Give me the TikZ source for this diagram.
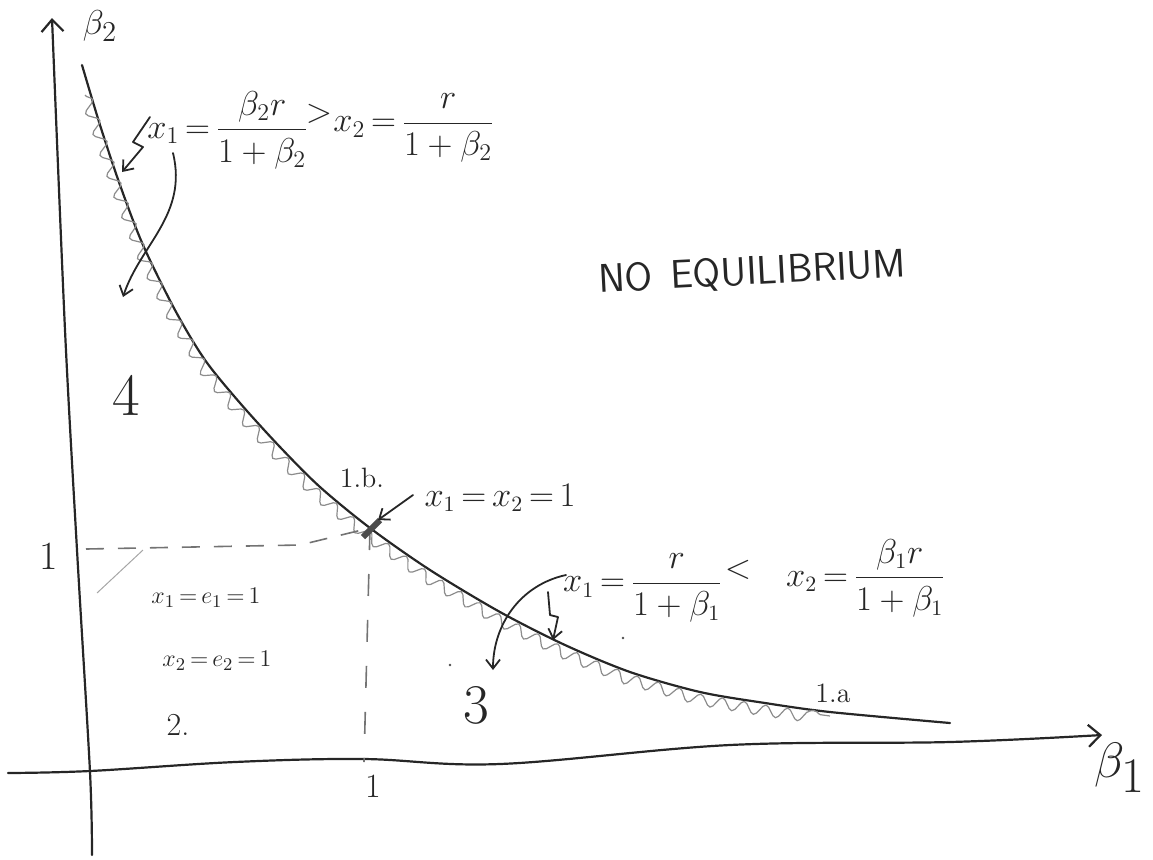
\documentclass[tikz,border=0pt]{standalone}
\usetikzlibrary{arrows.meta,decorations.pathmorphing}
\begin{document}
\begin{tikzpicture}[x=0.5pt,y=-0.5pt,
  ink/.style={line width=1.1pt, black!85, line cap=round, line join=round},
  axisarrow/.style={ink, -{Straight Barb[length=6pt,width=11pt]}},
  pen/.style={line width=0.9pt, black!85, line cap=round, line join=round, -{Straight Barb[length=4.5pt,width=7pt]}},
  guide/.style={line width=0.8pt, black!55, dash pattern=on 9pt off 7pt},
  wiggle/.style={line width=0.6pt, black!45, decorate, decoration={snake, segment length=11pt, amplitude=2.8pt}},
  lab/.style={inner sep=0pt, text=black!85},
]
\useasboundingbox (0,0) rectangle (1153,859);

% axes
\draw[axisarrow] plot[smooth] coordinates {(92,855) (90,772) (77,550) (65,330) (52,18)};
\draw[axisarrow] plot[smooth, tension=0.6] coordinates {(8,773) (90,771) (235,762) (363,759) (500,764) (730,745) (950,742) (1102,735)};

% key point on the curve
\coordinate (P) at (370,528);

% hyperbola-like boundary
\draw[ink] plot[smooth] coordinates {(82,65) (100,125) (120,185) (143,245) (175,310) (205,360) (240,403) (280,447) (320,487) (370,528) (430,570) (500,612) (565,645) (630,672) (700,692) (765,703) (830,712) (950,723)};
\draw[wiggle] (85,95) -- (97,129) -- (117,189) -- (140,249) -- (172,314) -- (202,364) -- (237,407) -- (277,451) -- (317,491) -- (367,532) -- (427,574) -- (498,616) -- (563,649) -- (629,676) -- (699,696) -- (765,707) -- (830,716);

% dashed guides
\coordinate (H) at (86,549);
\coordinate (V) at (364,762);
\draw[guide] (H) -- (300,545) -- (P);
\draw[guide, dash pattern=on 11pt off 12pt] (P) -- (V);
\draw[black!35, line width=0.5pt] (97,593) -- (143,550);

% thick mark
\draw[line width=3pt, black!70] (363,537) -- (380,520);

% axis labels
\node[lab, font=\fontsize{19}{21}\selectfont] (b2) at (100,26) {$\beta_2$};
\node[lab, font=\fontsize{40}{44}\selectfont] (b1) at (1120,768) {$\beta_1$};
\node[lab, font=\fontsize{20}{22}\selectfont] (one) at (49,556) {1};
\node[lab, font=\fontsize{17}{20}\selectfont] (oneb) at (373,786) {1};

% top formula
\node[lab, font=\fontsize{17}{20}\selectfont] (f1) at (228,130) {$x_1\,{=}\,\displaystyle\frac{\beta_2 r}{1+\beta_2}$};
\node[lab, font=\fontsize{17}{20}\selectfont] (gt) at (319,114) {$>$};
\node[lab, font=\fontsize{17}{20}\selectfont] (f2) at (414,128) {$x_2\,{=}\,\displaystyle\frac{r}{1+\beta_2}$};

% region labels
\node[lab, font=\sffamily\fontsize{20}{24}\selectfont, rotate=3] (nq) at (752,273) {NO\hspace{0.45em}EQUILIBRIUM};
\node[lab, font=\fontsize{30}{34}\selectfont] (r4) at (126,395) {4};
\node[lab, font=\fontsize{28}{32}\selectfont] (r3) at (476,705) {3};
\node[lab, font=\fontsize{16}{19}\selectfont] (r2) at (178,725) {2.};
\node[lab, font=\fontsize{13}{16}\selectfont] (e1) at (206,598) {$x_1\,{=}\,e_1\,{=}\,1$};
\node[lab, font=\fontsize{13}{16}\selectfont] (e2) at (217,661) {$x_2\,{=}\,e_2\,{=}\,1$};
\node[lab, font=\fontsize{14}{17}\selectfont] (lb) at (362,478) {1.b.};
\node[lab, font=\fontsize{14}{17}\selectfont] (la) at (833,693) {1.a};
\node[lab, font=\fontsize{16}{19}\selectfont] (eq) at (500,498) {$x_1\,{=}\,x_2\,{=}\,1$};

% bottom formula
\node[lab, font=\fontsize{16}{19}\selectfont] (f3) at (643,588) {$x_1\,{=}\,\displaystyle\frac{r}{1+\beta_1}$};
\node[lab, font=\fontsize{16}{19}\selectfont] (lt) at (738,570) {$<$};
\node[lab, font=\fontsize{16}{19}\selectfont] (f4) at (866,578) {$x_2\,{=}\,\displaystyle\frac{\beta_1 r}{1+\beta_1}$};

% arrows
\coordinate (a1s) at (150,117);
\coordinate (a1e) at (122,172);
\draw[pen] (a1s) -- (133,142) -- (143,147) -- (a1e);
\coordinate (a2s) at (173,153);
\coordinate (a2e) at (123,297);
\draw[pen] (a2s) .. controls (188,215) and (140,245) .. (a2e);
\coordinate (a3s) at (413,495);
\draw[pen] (a3s) -- ([shift={(8,-8)}]P);
\coordinate (a4s) at (566,575);
\coordinate (a4e) at (493,670);
\draw[pen] (a4s) .. controls (520,585) and (493,625) .. (a4e);
\coordinate (a5s) at (548,592);
\coordinate (a5e) at (553,640);
\draw[pen] (a5s) -- (550,615) -- (558,617) -- (a5e);

% specks
\fill[black!70] (623,638) circle (1.3);
\fill[black!70] (450,665) circle (1.3);
\end{tikzpicture}
\end{document}
